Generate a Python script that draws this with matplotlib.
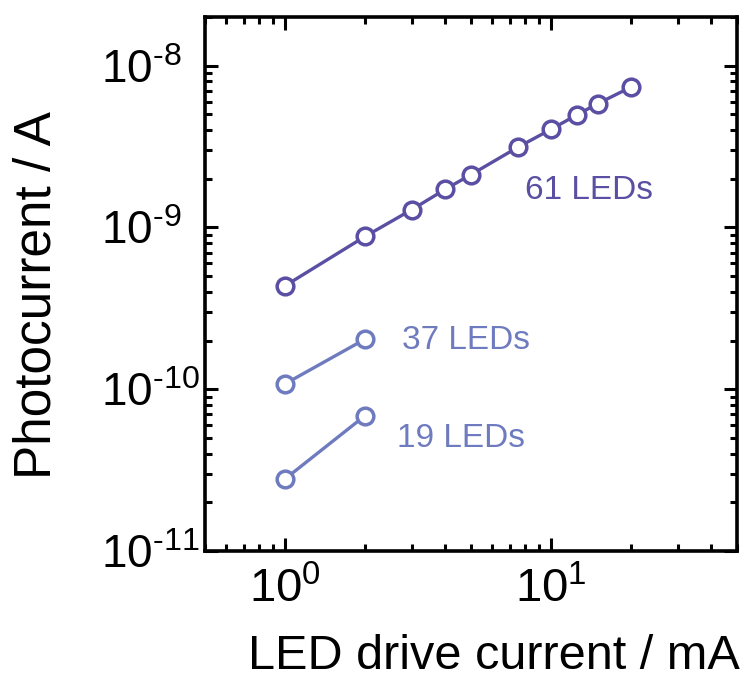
import math
import matplotlib
matplotlib.use("Agg")
import matplotlib.pyplot as plt
from matplotlib.ticker import LogLocator, FuncFormatter, NullFormatter, FixedLocator

plt.rcParams['font.family'] = ['Liberation Sans', 'DejaVu Sans']
plt.rcParams['mathtext.fontset'] = 'custom'
plt.rcParams['mathtext.rm'] = 'Liberation Sans'
plt.rcParams['mathtext.it'] = 'Liberation Sans'

# data
x61 = [1, 2, 3, 4, 5, 7.5, 10, 12.5, 15, 20]
y61 = [4.36e-10, 8.8e-10, 1.29e-9, 1.72e-9, 2.12e-9, 3.13e-9, 4.04e-9, 4.96e-9, 5.83e-9, 7.37e-9]
x37 = [1, 2]
y37 = [1.08e-10, 2.04e-10]
x19 = [1, 2]
y19 = [2.79e-11, 6.87e-11]
labels = ["61 LEDs", "37 LEDs", "19 LEDs"]
label_x = [13.9, 4.8, 4.6]
label_y = [1.7e-9, 1.99e-10, 4.97e-11]
x_ticks = [1, 10]
y_ticks = [1e-11, 1e-10, 1e-9, 1e-8]

c61 = '#5a4fa3'
c_low = '#6f7bbf'

fig = plt.figure(figsize=(7.55, 6.84), dpi=100)
ax = fig.add_axes([0.2715, 0.1944, 0.7045, 0.7808])

kw = dict(marker='o', markersize=12, markerfacecolor='white', markeredgewidth=2.5, linewidth=2.4)
ax.plot(x61, y61, color=c61, **kw)
ax.plot(x37, y37, color=c_low, **kw)
ax.plot(x19, y19, color=c_low, **kw)

for lx, ly, lab, col in zip(label_x, label_y, labels, [c61, c_low, c_low]):
    ax.text(lx, ly, lab, color=col, fontsize=24, ha='center', va='center')

ax.set_xscale('log')
ax.set_yscale('log')
ax.set_xlim(0.5, 50)
ax.set_ylim(1e-11, 2e-8)

def fmt(v, pos):
    e = int(round(math.log10(v)))
    if e < 0:
        return r'$\mathregular{10^{\text{-}%d}}$' % (-e)
    return r'$\mathregular{10^{%d}}$' % e

ax.xaxis.set_major_locator(FixedLocator(x_ticks))
ax.yaxis.set_major_locator(FixedLocator(y_ticks))
ax.xaxis.set_minor_locator(LogLocator(base=10, subs=range(2, 10), numticks=20))
ax.yaxis.set_minor_locator(LogLocator(base=10, subs=range(2, 10), numticks=20))
ax.xaxis.set_major_formatter(FuncFormatter(fmt))
ax.yaxis.set_major_formatter(FuncFormatter(fmt))
ax.xaxis.set_minor_formatter(NullFormatter())
ax.yaxis.set_minor_formatter(NullFormatter())

ax.tick_params(which='both', direction='in', top=True, right=True, width=2.2, colors='black')
ax.tick_params(which='major', length=9.5)
ax.tick_params(which='minor', length=5)
ax.tick_params(axis='x', which='major', labelsize=34, pad=12)
ax.tick_params(axis='y', which='major', labelsize=33, pad=75)
for t in ax.get_yticklabels():
    t.set_horizontalalignment('left')

for s in ax.spines.values():
    s.set_linewidth(2.6)

ax.set_xlabel('LED drive current / mA', fontsize=35)
ax.set_ylabel('Photocurrent / A', fontsize=37)
ax.xaxis.set_label_coords(0.544, -0.155)
ax.yaxis.set_label_coords(-0.269, 0.48)

fig.savefig('out.png', dpi=100)
